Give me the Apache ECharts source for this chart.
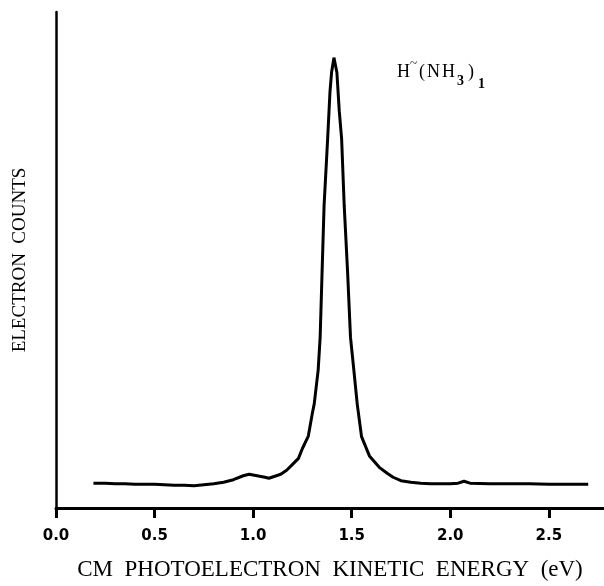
<!DOCTYPE html>
<html>
<head>
<meta charset="utf-8">
<script src="https://cdn.jsdelivr.net/npm/echarts@6/dist/echarts.min.js"></script>
<style>
html,body{margin:0;padding:0;background:#fff;}
#chart{width:604px;height:586px;}
</style>
</head>
<body>
<div id="chart"></div>
<script>
// Photoelectron kinetic energy (eV)
var energy = [0.19,0.25,0.30,0.35,0.40,0.45,0.50,0.55,0.60,0.65,0.70,0.75,0.80,0.85,0.90,0.95,0.98,1.02,1.06,1.08,1.11,1.14,1.17,1.20,1.23,1.25,1.28,1.30,1.31,1.33,1.34,1.35,1.36,1.378,1.39,1.398,1.41,1.425,1.437,1.449,1.462,1.479,1.494,1.511,1.528,1.55,1.59,1.64,1.68,1.71,1.75,1.80,1.85,1.90,1.95,2.00,2.04,2.07,2.10,2.20,2.30,2.40,2.50,2.60,2.70];
// Electron counts (arbitrary units)
var counts = [5.0,5.0,4.9,4.9,4.8,4.8,4.8,4.7,4.6,4.6,4.5,4.7,4.9,5.2,5.7,6.5,6.8,6.5,6.2,6.0,6.4,6.8,7.6,8.8,10.0,12.0,14.5,19,21,27.8,34.4,47.8,61,74.4,84,87.8,90.8,87.8,80,74.4,61,47.8,34.4,27.8,21,14.4,10.5,8.2,7.0,6.2,5.5,5.2,5.0,4.9,4.9,4.9,5.0,5.4,5.0,4.9,4.9,4.9,4.8,4.8,4.8];
var xTicks = [0, 0.5, 1.0, 1.5, 2.0, 2.5];
var xTickLabels = ['0.0','0.5','1.0','1.5','2.0','2.5'];

var seriesData = energy.map(function(e, i){ return [e, counts[i]]; });

var chart = echarts.init(document.getElementById('chart'), null, {renderer:'canvas'});
var serif = '"Liberation Serif","DejaVu Serif",serif';
chart.setOption({
  animation: false,
  backgroundColor: '#fff',
  grid: {left: 56, right: 0, top: 12, bottom: 74},
  xAxis: {
    type: 'value', min: 0, max: 2.78,
    name: 'CM  PHOTOELECTRON  KINETIC  ENERGY  (eV)',
    nameLocation: 'middle', nameGap: 50,
    nameTextStyle: {fontFamily: serif, fontSize: 23, color: '#000'},
    axisLine: {show: true, lineStyle: {color: '#000', width: 3}},
    axisTick: {show: true, inside: false, length: 10, customValues: xTicks, lineStyle: {color: '#000', width: 3}},
    axisLabel: {show: true, customValues: xTicks, margin: 21, color: '#000',
      fontFamily: '"DejaVu Sans",sans-serif', fontWeight: 'bold', fontSize: 15,
      formatter: function(v){ var i = xTicks.indexOf(v); return i >= 0 ? xTickLabels[i] : ''; }},
    splitLine: {show: false}
  },
  yAxis: {
    type: 'value', min: 0, max: 100,
    name: 'ELECTRON  COUNTS',
    nameLocation: 'middle', nameGap: 26, nameRotate: 90,
    nameTextStyle: {fontFamily: serif, fontSize: 19, color: '#000'},
    axisLine: {show: true, lineStyle: {color: '#000', width: 2.5}},
    axisTick: {show: false},
    axisLabel: {show: false},
    splitLine: {show: false}
  },
  graphic: [
    {type: 'text', left: 397, top: 63, style: {text: 'H', font: '18px ' + serif, fill: '#000'}},
    {type: 'text', left: 410, top: 57, style: {text: '~', font: '13px ' + serif, fill: '#000'}},
    {type: 'text', left: 419, top: 63, style: {text: '(', font: '18px ' + serif, fill: '#000'}},
    {type: 'text', left: 427, top: 63, style: {text: 'N', font: '18px ' + serif, fill: '#000'}},
    {type: 'text', left: 442, top: 63, style: {text: 'H', font: '18px ' + serif, fill: '#000'}},
    {type: 'text', left: 457, top: 74, style: {text: '3', font: 'bold 14px ' + serif, fill: '#000'}},
    {type: 'text', left: 468, top: 63, style: {text: ')', font: '18px ' + serif, fill: '#000'}},
    {type: 'text', left: 478, top: 77, style: {text: '1', font: 'bold 14px ' + serif, fill: '#000'}}
  ],
  series: [{
    type: 'line',
    data: seriesData,
    showSymbol: false,
    smooth: false,
    lineStyle: {color: '#000', width: 3},
    itemStyle: {color: '#000'}
  }]
});
</script>
</body>
</html>
